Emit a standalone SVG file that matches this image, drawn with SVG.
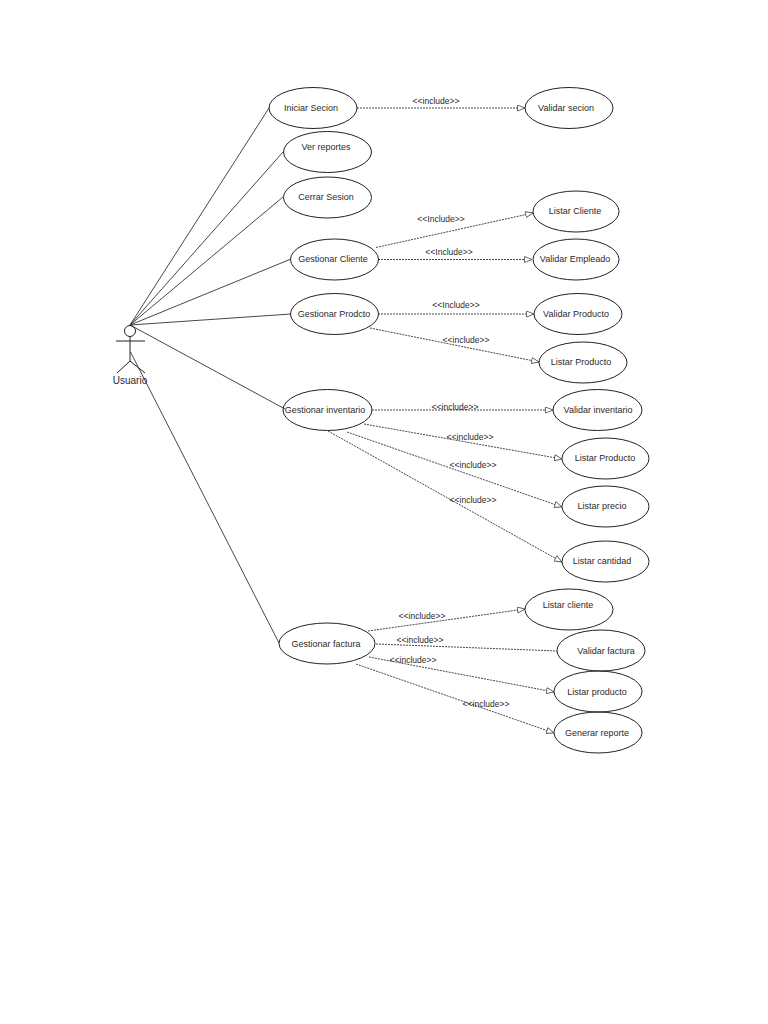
<svg xmlns="http://www.w3.org/2000/svg" width="768" height="1024" viewBox="0 0 768 1024">
<style>
text{font-family:"Liberation Sans",Arial,sans-serif;fill:#2a2a2a;text-anchor:middle}
.n text{font-size:9px}
.n ellipse{fill:none;stroke:#222;stroke-width:1}
.a{stroke:#333;stroke-width:.9;fill:none}
.i{stroke:#333;stroke-width:.9;stroke-dasharray:2 1;fill:none;marker-end:url(#o)}
.p{stroke:#333;stroke-width:.9;stroke-dasharray:2 1;fill:none}
.l{font-size:8.5px}
</style>
<defs>
<marker id="o" markerUnits="userSpaceOnUse" markerWidth="10" markerHeight="10" refX="8" refY="3.5" orient="auto">
<path d="M0.5 0.5L8 3.5L0.5 6.5Z" fill="#fff" stroke="#444" stroke-width=".8"/>
</marker>
</defs>
<rect width="768" height="1024" fill="#fff"/>
<g id="connectors">
<path class="a" d="M130 325L269 108"/>
<path class="a" d="M130 325L283 152"/>
<path class="a" d="M130 325L283 197"/>
<path class="a" d="M130 325L291 259"/>
<path class="a" d="M130 325L291 314"/>
<path class="a" d="M130 325L285 409"/>
<path class="a" d="M130.500 352L279 643"/>
<path class="i" d="M357 108H525"/>
<path class="i" d="M376 247.500L533 213"/>
<path class="i" d="M378 259.500H532"/>
<path class="i" d="M378 314H534"/>
<path class="i" d="M370 328L539 362"/>
<path class="i" d="M372 410H553"/>
<path class="i" d="M364 424L562 459"/>
<path class="i" d="M347 432L562 507"/>
<path class="i" d="M328 431L562 562"/>
<path class="i" d="M368 631L525 609"/>
<path class="p" d="M376 644L557 651"/>
<path class="i" d="M369 657L554 692"/>
<path class="i" d="M356 664L554 733"/>
<g id="connector-labels">
<text class="l" x="436" y="104">&lt;&lt;include&gt;&gt;</text>
<text class="l" x="441" y="222">&lt;&lt;Include&gt;&gt;</text>
<text class="l" x="449" y="255">&lt;&lt;Include&gt;&gt;</text>
<text class="l" x="456" y="308">&lt;&lt;Include&gt;&gt;</text>
<text class="l" x="466" y="343">&lt;&lt;include&gt;&gt;</text>
<text class="l" x="455" y="410">&lt;&lt;include&gt;&gt;</text>
<text class="l" x="470" y="440">&lt;&lt;include&gt;&gt;</text>
<text class="l" x="473" y="468">&lt;&lt;include&gt;&gt;</text>
<text class="l" x="473" y="502.500">&lt;&lt;include&gt;&gt;</text>
<text class="l" x="422" y="619">&lt;&lt;include&gt;&gt;</text>
<text class="l" x="420" y="643">&lt;&lt;include&gt;&gt;</text>
<text class="l" x="413" y="663">&lt;&lt;include&gt;&gt;</text>
<text class="l" x="486" y="707">&lt;&lt;include&gt;&gt;</text>
</g>
</g>
<g id="actor-usuario" fill="none" stroke="#222" stroke-width="1">
<circle cx="130" cy="331" r="5.500"/>
<path d="M116 341H145M130 336.500V361M130 361L117 373M130 361L145 373"/>
<text x="130" y="384" font-size="10" stroke="none">Usuario</text>
</g>
<g class="n" id="iniciar-secion"><ellipse cx="313" cy="108" rx="44" ry="20.500"/><text x="311" y="111">Iniciar Secion</text></g>
<g class="n" id="ver-reportes"><ellipse cx="327.500" cy="152" rx="44" ry="20.500"/><text x="326" y="150">Ver reportes</text></g>
<g class="n" id="cerrar-sesion"><ellipse cx="327.500" cy="197.500" rx="44" ry="20.500"/><text x="326" y="200">Cerrar Sesion</text></g>
<g class="n" id="gestionar-cliente"><ellipse cx="334.500" cy="259.500" rx="44" ry="20.500"/><text x="333" y="262">Gestionar Cliente</text></g>
<g class="n" id="gestionar-prodcto"><ellipse cx="334.500" cy="314" rx="44" ry="20.500"/><text x="334" y="317">Gestionar Prodcto</text></g>
<g class="n" id="gestionar-inventario"><ellipse cx="327.500" cy="410" rx="44.500" ry="20.500"/><text x="325" y="413">Gestionar inventario</text></g>
<g class="n" id="gestionar-factura"><ellipse cx="327" cy="643.500" rx="48" ry="20.500"/><text x="326" y="647">Gestionar factura</text></g>
<g class="n" id="validar-secion"><ellipse cx="569" cy="108" rx="44" ry="20.500"/><text x="566" y="111">Validar secion</text></g>
<g class="n" id="listar-cliente"><ellipse cx="576" cy="211.500" rx="43" ry="20.500"/><text x="575" y="214">Listar Cliente</text></g>
<g class="n" id="validar-empleado"><ellipse cx="576" cy="259.500" rx="43" ry="20.500"/><text x="575" y="262">Validar Empleado</text></g>
<g class="n" id="validar-producto"><ellipse cx="578" cy="314" rx="44" ry="20.500"/><text x="576" y="317">Validar Producto</text></g>
<g class="n" id="listar-producto"><ellipse cx="583" cy="362.500" rx="44" ry="20.500"/><text x="581" y="365">Listar Producto</text></g>
<g class="n" id="validar-inventario"><ellipse cx="597.500" cy="410" rx="44.500" ry="20.500"/><text x="598" y="413">Validar inventario</text></g>
<g class="n" id="listar-producto-2"><ellipse cx="605.500" cy="458.500" rx="43.500" ry="20.500"/><text x="605" y="461">Listar Producto</text></g>
<g class="n" id="listar-precio"><ellipse cx="605.500" cy="506.500" rx="43.500" ry="20.500"/><text x="602" y="509">Listar precio</text></g>
<g class="n" id="listar-cantidad"><ellipse cx="605.500" cy="561.500" rx="43.500" ry="20.500"/><text x="602" y="564">Listar cantidad</text></g>
<g class="n" id="listar-cliente-2"><ellipse cx="569" cy="609.500" rx="44" ry="20.500"/><text x="568" y="608">Listar cliente</text></g>
<g class="n" id="validar-factura"><ellipse cx="601" cy="650.500" rx="44" ry="20.500"/><text x="606" y="654">Validar factura</text></g>
<g class="n" id="listar-producto-3"><ellipse cx="598" cy="691.500" rx="44" ry="20.500"/><text x="597" y="695">Listar producto</text></g>
<g class="n" id="generar-reporte"><ellipse cx="598" cy="732.500" rx="44" ry="20.500"/><text x="597" y="736">Generar reporte</text></g>
</svg>
